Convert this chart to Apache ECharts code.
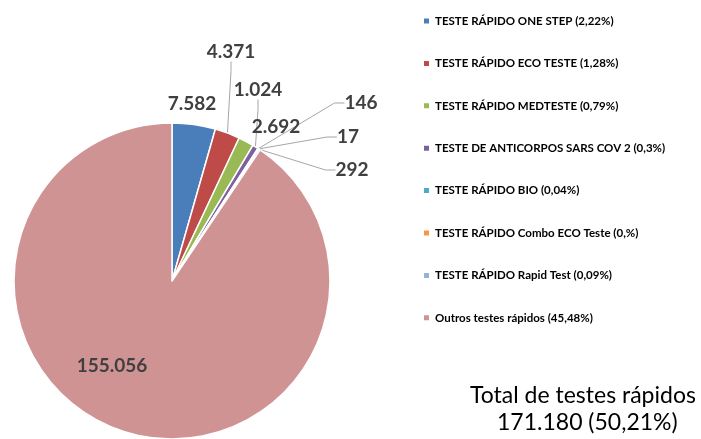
<!DOCTYPE html>
<html>
<head>
<meta charset="utf-8">
<script src="https://cdn.jsdelivr.net/npm/echarts@6/dist/echarts.min.js"></script>
<style>
  html, body { margin: 0; padding: 0; background: #fff; }
  #pie { width: 701px; height: 439px; }
</style>
</head>
<body>
<div id="pie"></div>
<script>
// dados
var names = ['TESTE RÁPIDO ONE STEP', 'TESTE RÁPIDO ECO TESTE', 'TESTE RÁPIDO MEDTESTE',
  'TESTE DE ANTICORPOS SARS COV 2', 'TESTE RÁPIDO BIO', 'TESTE RÁPIDO Combo ECO Teste',
  'TESTE RÁPIDO Rapid Test', 'Outros testes rápidos'];
var values = [7582, 4371, 2692, 1024, 146, 17, 292, 155056];
var valueLabels = ['7.582', '4.371', '2.692', '1.024', '146', '17', '292', '155.056'];
var percents = ['2,22%', '1,28%', '0,79%', '0,3%', '0,04%', '0,%', '0,09%', '45,48%'];
var totalText = ['Total de testes rápidos', '171.180 (50,21%)'];

var colors = ['#4A7EBB', '#BE4B48', '#98B954', '#7D60A0', '#4BACC6', '#F79646', '#95B3D7', '#D09393'];
// onde fica cada rótulo (centro do texto)
var labelPos = [[192, 104], [231, 52], [276, 127], [258, 90], [361, 103], [348, 137], [352, 170], [112, 366]];
var showLine = [false, true, false, true, true, true, true, false];

var fontFam = 'Lato, "Open Sans", sans-serif';

function makeOption() {
  var data = [];
  for (var i = 0; i < names.length; i++) {
    data.push({
      name: names[i],
      value: values[i],
      itemStyle: { color: colors[i] },
      labelLine: { show: showLine[i] }
    });
  }
  return {
    animation: false,
    legend: {
      orient: 'vertical',
      left: 417,
      top: 9,
      itemWidth: 7,
      itemHeight: 7,
      itemGap: 28.4,
      icon: 'rect',
      formatter: function (n) {
        return n + ' (' + percents[names.indexOf(n)] + ')';
      },
      textStyle: { fontFamily: fontFam, fontWeight: 'bold', fontSize: 11.5, color: '#000', lineHeight: 14 }
    },
    graphic: [
      { type: 'text', left: 470, top: 384,
        style: { text: totalText[0], fontFamily: fontFam, fontSize: 23, fill: '#000' } },
      { type: 'text', left: 497, top: 411,
        style: { text: totalText[1], fontFamily: fontFam, fontSize: 23, fill: '#000' } }
    ],
    series: [{
      type: 'pie',
      center: [172, 281],
      radius: 158,
      startAngle: 90,
      avoidLabelOverlap: false,
      itemStyle: { borderColor: '#fff', borderWidth: 1.5 },
      label: {
        show: true,
        position: 'outside',
        formatter: function (p) { return valueLabels[p.dataIndex]; },
        fontFamily: fontFam,
        fontWeight: 'bold',
        fontSize: 19,
        color: '#404040'
      },
      labelLine: { lineStyle: { color: '#A6A6A6', width: 1 }, length: 10, length2: 10 },
      labelLayout: function (p) {
        var q = labelPos[p.dataIndex];
        return { x: q[0], y: q[1], align: 'center', verticalAlign: 'middle' };
      },
      data: data
    }]
  };
}

function setChart(id, option) {
  var myChart = echarts.init(document.getElementById(id));
  myChart.setOption(option);
}
setChart('pie', makeOption());
</script>
</body>
</html>
